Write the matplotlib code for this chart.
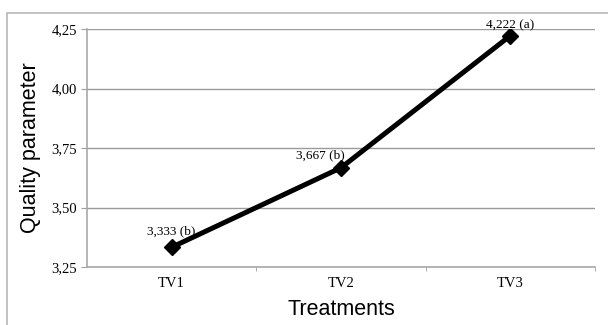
import matplotlib
matplotlib.use("Agg")
import matplotlib.pyplot as plt
from matplotlib.patches import Rectangle

categories = ["TV1", "TV2", "TV3"]
values = [3.333, 3.667, 4.222]
labels = ["3,333 (b)", "3,667 (b)", "4,222 (a)"]
yticks = [3.25, 3.50, 3.75, 4.00, 4.25]
ytick_labels = ["3,25", "3,50", "3,75", "4,00", "4,25"]

W, H = 608, 325
fig = plt.figure(figsize=(W / 100, H / 100), dpi=100)
fig.patch.set_facecolor("white")

# outer chart border
fig.patches.append(Rectangle((7 / W, -0.05), 1.1, 1 - 13 / H + 0.05,
                             transform=fig.transFigure, fill=False,
                             edgecolor="#b8b8b8", linewidth=1.2))

left, right, top, bottom = 87, 595, 29, 267
ax = fig.add_axes([left / W, 1 - bottom / H, (right - left) / W, (bottom - top) / H])

x = list(range(len(categories)))
ax.plot(x, values, color="black", linewidth=3.6, marker="D", markersize=8.5,
        markerfacecolor="black", markeredgecolor="black", zorder=5,
        solid_capstyle="butt")

ax.set_xlim(-0.5, len(categories) - 0.5)
ax.set_ylim(3.25, 4.25)
ax.set_yticks(yticks)
ax.set_yticklabels(ytick_labels, fontfamily="Liberation Serif", fontsize=10.5)
ax.set_xticks(x)
ax.set_xticklabels(categories, fontfamily="Liberation Serif", fontsize=10.5)
ax.set_xticks([0.5, 1.5, 2.5], minor=True)
ax.tick_params(axis="x", which="major", length=0, pad=7)
ax.tick_params(axis="x", which="minor", length=3, color="#a0a0a0", direction="out")
ax.tick_params(axis="y", length=4, color="#a0a0a0", pad=3)

ax.grid(axis="y", color="#9a9a9a", linewidth=1.0)
ax.set_axisbelow(True)
for s in ["top", "right"]:
    ax.spines[s].set_visible(False)
for s in ["left", "bottom"]:
    ax.spines[s].set_color("#a8a8a8")
    ax.spines[s].set_linewidth(1.2)

offsets = [(0, 9), (-14.5, 7), (0, 5.5)]
for xi, v, lab, off in zip(x, values, labels, offsets):
    ax.annotate(lab, (xi, v), xytext=off, textcoords="offset points",
                ha="center", va="baseline", fontfamily="Liberation Serif",
                fontsize=9.5, annotation_clip=False, zorder=6)

ax.set_xlabel("Treatments", fontfamily="Liberation Sans", fontsize=15.5, labelpad=7)
ax.set_ylabel("Quality parameter", fontfamily="Liberation Sans", fontsize=15.5, labelpad=8)

fig.savefig("out.png", dpi=100)
